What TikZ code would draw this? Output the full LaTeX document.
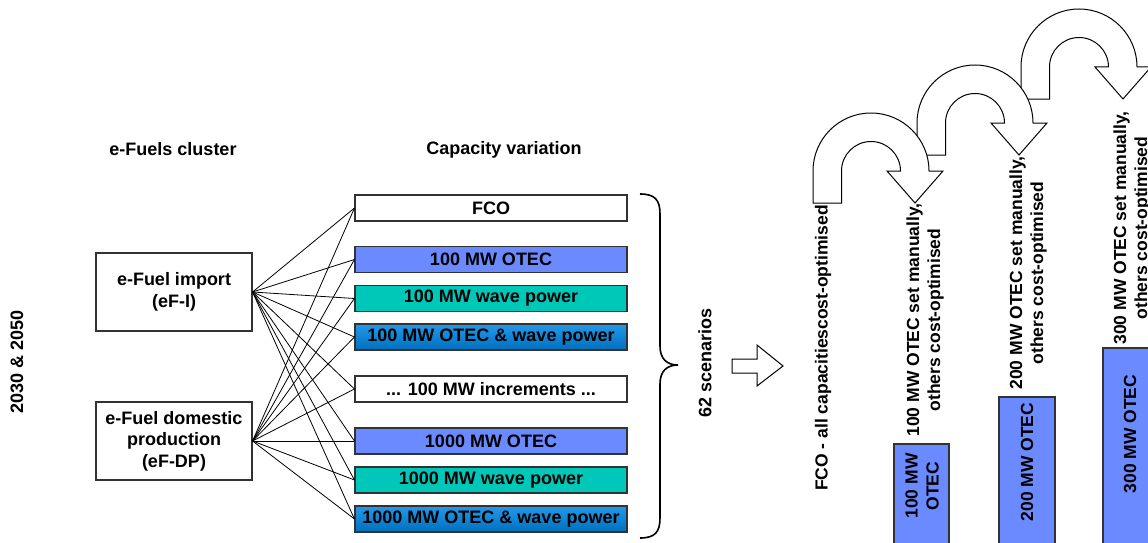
\documentclass[tikz,border=0pt]{standalone}
\usepackage{fontspec}
\setmainfont{Liberation Sans}
\usetikzlibrary{shapes.geometric}

\definecolor{otecblue}{RGB}{108,138,255}
\definecolor{waveteal}{RGB}{0,200,185}
\definecolor{mixtop}{RGB}{36,152,232}
\definecolor{mixbot}{RGB}{0,112,190}
\definecolor{boxline}{RGB}{50,50,50}

\tikzset{
  lbl/.style={font=\fontsize{18}{21.5}\selectfont\bfseries, inner sep=0pt},
  rlbl/.style={font=\fontsize{17.5}{21}\selectfont\bfseries, inner sep=0pt, rotate=90, align=center},
  varbox/.style={draw=boxline, line width=1.1pt, minimum width=272pt, minimum height=26pt,
                 inner sep=0pt, font=\fontsize{18}{21.5}\selectfont\bfseries},
  clusterbox/.style={draw=boxline, line width=1.1pt, minimum width=156pt, minimum height=78pt,
                 inner sep=0pt, align=center, font=\fontsize{18}{21.5}\selectfont\bfseries},
  otec/.style={varbox, fill=otecblue},
  wave/.style={varbox, fill=waveteal},
  mix/.style={varbox, top color=mixtop, bottom color=mixbot},
  plain/.style={varbox, fill=white},
  link/.style={line width=0.8pt},
  uturn/.style={draw=black, fill=white, line width=1pt, line join=miter},
  otecbar/.style={draw=boxline, line width=1.1pt, fill=otecblue, inner sep=0pt},
}

% U-turn arrow: #1,#2 = centre of the bend, #3 = drop of stem and head
\newcommand{\uturnarrow}[3]{%
  \draw[uturn] (#1-58,#2+#3) -- (#1-58,#2)
     arc[start angle=180, end angle=0, radius=58pt]
     -- (#1+72,#2) -- (#1+44,#2+#3) -- (#1+16,#2) -- (#1+29.5,#2)
     arc[start angle=0, end angle=180, radius=29.5pt]
     -- (#1-29.5,#2+#3) -- cycle;}

\begin{document}
\begin{tikzpicture}[x=1pt, y=-1pt]
\useasboundingbox (0,0) rectangle (1148,543);
\clip (0,0) rectangle (1148,543);
\fill[white] (0,0) rectangle (1148,543);

% headings
\node[lbl] (hcluster) at (173,149) {e-Fuels cluster};
\node[lbl] (hcap) at (504,150) {Capacity variation};
\node[lbl, rotate=90] (years) at (17,362) {2030 \& 2050};

% e-fuel clusters
\node[clusterbox] (imp) at (174,292) {e-Fuel import\\(eF-I)};
\node[clusterbox] (dom) at (174,441) {e-Fuel domestic\\production\\(eF-DP)};

% capacity variations
\node[plain] (v1) at (491,208)   {FCO};
\node[otec]  (v2) at (491,259.5) {100 MW OTEC};
\node[wave]  (v3) at (491,298.5) {100 MW wave power};
\node[mix]   (v4) at (491,337)   {100 MW OTEC \& wave power};
\node[plain] (v5) at (491,389)   {... 100 MW increments ...};
\node[otec]  (v6) at (491,441)   {1000 MW OTEC};
\node[wave]  (v7) at (491,480)   {1000 MW wave power};
\node[mix]   (v8) at (491,519)   {1000 MW OTEC \& wave power};

% every cluster is combined with every variation
\foreach \v in {v1,v2,v3,v4,v5,v6,v7,v8}{
  \draw[link] (imp.east) -- (\v.west);
  \draw[link] (dom.east) -- (\v.west);
}

% brace
\draw[line width=1.6pt] (640,194) .. controls (655,194) and (660,200) .. (660,214)
  -- (660,346) .. controls (660,359) and (667,365) .. (678,365)
  .. controls (667,365) and (660,371) .. (660,384)
  -- (660,518) .. controls (660,532) and (655,538) .. (640,538);
\node[lbl, rotate=90] (scen) at (705,363) {62 scenarios};

% block arrow
\draw[uturn] (732,359) -- (757,359) -- (757,345) -- (783,366) -- (757,386)
  -- (757,373) -- (732,373) -- cycle;

% manual OTEC steps
\node[otecbar, minimum width=55pt, minimum height=130pt] (b100) at (921.5,509) {};
\node[rlbl] (t100) at (922,486) {100 MW\\OTEC};
\node[otecbar, minimum width=56pt, minimum height=180pt] (b200) at (1027,487) {};
\node[rlbl] (t200) at (1027,462) {200 MW OTEC};
\node[otecbar, minimum width=60pt, minimum height=230pt] (b300) at (1133,463) {};
\node[rlbl] (t300) at (1130,434) {300 MW OTEC};

\uturnarrow{1079}{67}{32}
\uturnarrow{975}{123}{32}
\uturnarrow{871}{171}{32}

\node[rlbl] (s0) at (823,348) {FCO - all capacitiescost-optimised};
\node[rlbl] (s1) at (925,320) {100 MW OTEC set manually,\\others cost-optimised};
\node[rlbl] (s2) at (1028,273) {200 MW OTEC set manually,\\others cost-optimised};
\node[rlbl] (s3) at (1132,228) {300 MW OTEC set manually,\\others cost-optimised};
\end{tikzpicture}
\end{document}
